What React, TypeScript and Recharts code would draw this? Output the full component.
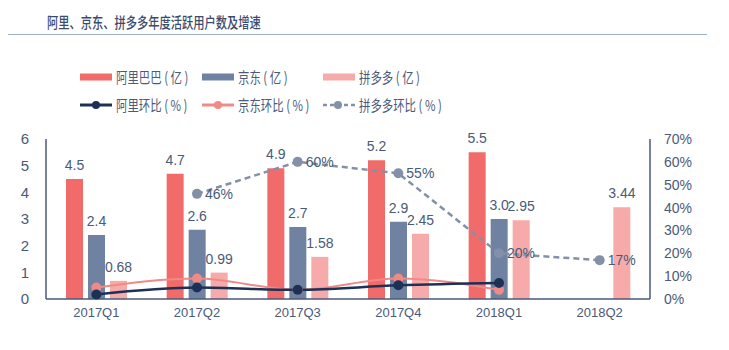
import React from 'react';
import { ComposedChart, Bar, Line, XAxis, YAxis, LabelList } from 'recharts';

const quarters = ['2017Q1', '2017Q2', '2017Q3', '2017Q4', '2018Q1', '2018Q2'];
const aliUsers = [4.5, 4.7, 4.9, 5.2, 5.5, null];
const jdUsers = [2.4, 2.6, 2.7, 2.9, 3.0, null];
const pddUsers = [0.68, 0.99, 1.58, 2.45, 2.95, 3.44];
const aliGrowth = [2, 5, 4, 6, 7, null];
const jdGrowth = [5, 9, 4, 9, 4, null];
const pddGrowth = [null, 46, 60, 55, 20, 17];
const leftTicks = [0, 1, 2, 3, 4, 5, 6];
const rightTicks = [0, 10, 20, 30, 40, 50, 60, 70];

const data = quarters.map((q, i) => ({
  quarter: q,
  ali: aliUsers[i],
  jd: jdUsers[i],
  pdd: pddUsers[i],
  aliG: aliGrowth[i],
  jdG: jdGrowth[i],
  pddG: pddGrowth[i],
}));

const TEXT = '#4a5a78';
const ALI = '#f26b6b';
const JD = '#6f82a2';
const PDD = '#f6aaa9';
const ALI_LINE = '#1d3157';
const JD_LINE = '#f08a86';
const PDD_LINE = '#8290a8';
const CJK = '"Noto Sans CJK SC", "Noto Sans", sans-serif';
const NUM = '"Liberation Sans", Arial, sans-serif';

const legendItems = [
  { name: '阿里巴巴 ( 亿 )', color: ALI, kind: 'bar', x: 80, y: 77 },
  { name: '京东 ( 亿 )', color: JD, kind: 'bar', x: 202, y: 77 },
  { name: '拼多多 ( 亿 )', color: PDD, kind: 'bar', x: 323, y: 77 },
  { name: '阿里环比 ( % )', color: ALI_LINE, kind: 'line', x: 80, y: 105 },
  { name: '京东环比 ( % )', color: JD_LINE, kind: 'line', x: 202, y: 105 },
  { name: '拼多多环比 ( % )', color: PDD_LINE, kind: 'dash', x: 323, y: 105 },
];

const LegendSwatch = ({ kind, color }: { kind: string; color: string }) => (
  <svg width={32} height={12} style={{ display: 'block' }}>
    {kind === 'bar' && <rect x={0} y={2.5} width={32} height={7} fill={color} />}
    {kind === 'line' && (
      <g>
        <line x1={0} y1={6} x2={32} y2={6} stroke={color} strokeWidth={3} />
        <circle cx={16} cy={6} r={4} fill={color} />
      </g>
    )}
    {kind === 'dash' && (
      <g>
        <line x1={0} y1={6} x2={32} y2={6} stroke={color} strokeWidth={2.5} strokeDasharray="4 3" />
        <circle cx={15} cy={6} r={4} fill={color} />
      </g>
    )}
  </svg>
);

export default function App() {
  return (
    <div style={{ position: 'absolute', left: 0, top: 0, width: 729, height: 350, background: '#fff', overflow: 'hidden' }}>
      <div
        style={{
          position: 'absolute',
          left: 47,
          top: 11,
          fontFamily: CJK,
          fontSize: 15,
          fontWeight: 500,
          color: '#3a4b6e',
          whiteSpace: 'nowrap',
          transform: 'scaleX(0.75)',
          transformOrigin: 'left center',
        }}
      >
        阿里、京东、拼多多年度活跃用户数及增速
      </div>
      <div style={{ position: 'absolute', left: 8, top: 34, width: 699, height: 1, background: '#9fb0c6' }} />

      {legendItems.map((item) => (
        <div key={item.name} style={{ position: 'absolute', left: item.x, top: item.y - 6, display: 'flex', alignItems: 'center' }}>
          <LegendSwatch kind={item.kind} color={item.color} />
          <span
            style={{
              marginLeft: 4,
              fontFamily: CJK,
              fontSize: 15,
              lineHeight: '12px',
              color: TEXT,
              whiteSpace: 'nowrap',
              transform: 'scaleX(0.76)',
              transformOrigin: 'left center',
              display: 'inline-block',
            }}
          >
            {item.name}
          </span>
        </div>
      ))}

      <div style={{ position: 'absolute', left: 0, top: 0 }}>
        <ComposedChart
          width={729}
          height={350}
          data={data}
          margin={{ top: 139, right: 0, bottom: 21, left: 0 }}
          barSize={17}
          barGap={5}
        >
          <XAxis
            dataKey="quarter"
            height={30}
            axisLine={{ stroke: TEXT, strokeWidth: 1.5 }}
            tickLine={false}
            tick={{ fill: TEXT, fontSize: 13, fontFamily: NUM }}
            tickMargin={3}
          />
          <YAxis
            yAxisId="left"
            width={46}
            domain={[0, 6]}
            ticks={leftTicks}
            axisLine={{ stroke: TEXT, strokeWidth: 1.5 }}
            tickLine={false}
            tick={{ fill: TEXT, fontSize: 15, fontFamily: NUM }}
            tickMargin={11}
          />
          <YAxis
            yAxisId="right"
            orientation="right"
            width={79}
            domain={[0, 70]}
            ticks={rightTicks}
            tickFormatter={(v: number) => `${v}%`}
            axisLine={{ stroke: TEXT, strokeWidth: 1.5 }}
            tickLine={false}
            tick={{ fill: TEXT, fontSize: 14, fontFamily: NUM }}
            tickMargin={8}
          />
          <Bar yAxisId="left" dataKey="ali" fill={ALI} isAnimationActive={false}>
            <LabelList dataKey="ali" position="top" offset={9} fill={TEXT} fontSize={14} fontFamily={NUM} formatter={(v: number) => (v == null ? '' : v.toFixed(1))} />
          </Bar>
          <Bar yAxisId="left" dataKey="jd" fill={JD} isAnimationActive={false}>
            <LabelList dataKey="jd" position="top" offset={9} fill={TEXT} fontSize={14} fontFamily={NUM} formatter={(v: number) => (v == null ? '' : v.toFixed(1))} />
          </Bar>
          <Bar yAxisId="left" dataKey="pdd" fill={PDD} isAnimationActive={false}>
            <LabelList dataKey="pdd" position="top" offset={9} fill={TEXT} fontSize={14} fontFamily={NUM} />
          </Bar>
          <Line
            yAxisId="right"
            type="linear"
            dataKey="pddG"
            stroke={PDD_LINE}
            strokeWidth={2.5}
            strokeDasharray="6 4"
            dot={{ r: 5, fill: PDD_LINE, stroke: PDD_LINE, strokeWidth: 0 }}
            isAnimationActive={false}
          >
            <LabelList dataKey="pddG" position="right" offset={8} fill={TEXT} fontSize={14} fontFamily={NUM} formatter={(v: number) => (v == null ? '' : `${v}%`)} />
          </Line>
          <Line
            yAxisId="right"
            type="monotone"
            dataKey="jdG"
            stroke={JD_LINE}
            strokeWidth={2}
            dot={{ r: 5, fill: JD_LINE, stroke: JD_LINE, strokeWidth: 0 }}
            isAnimationActive={false}
          />
          <Line
            yAxisId="right"
            type="monotone"
            dataKey="aliG"
            stroke={ALI_LINE}
            strokeWidth={2.5}
            dot={{ r: 5, fill: ALI_LINE, stroke: ALI_LINE, strokeWidth: 0 }}
            isAnimationActive={false}
          />
        </ComposedChart>
      </div>
    </div>
  );
}
